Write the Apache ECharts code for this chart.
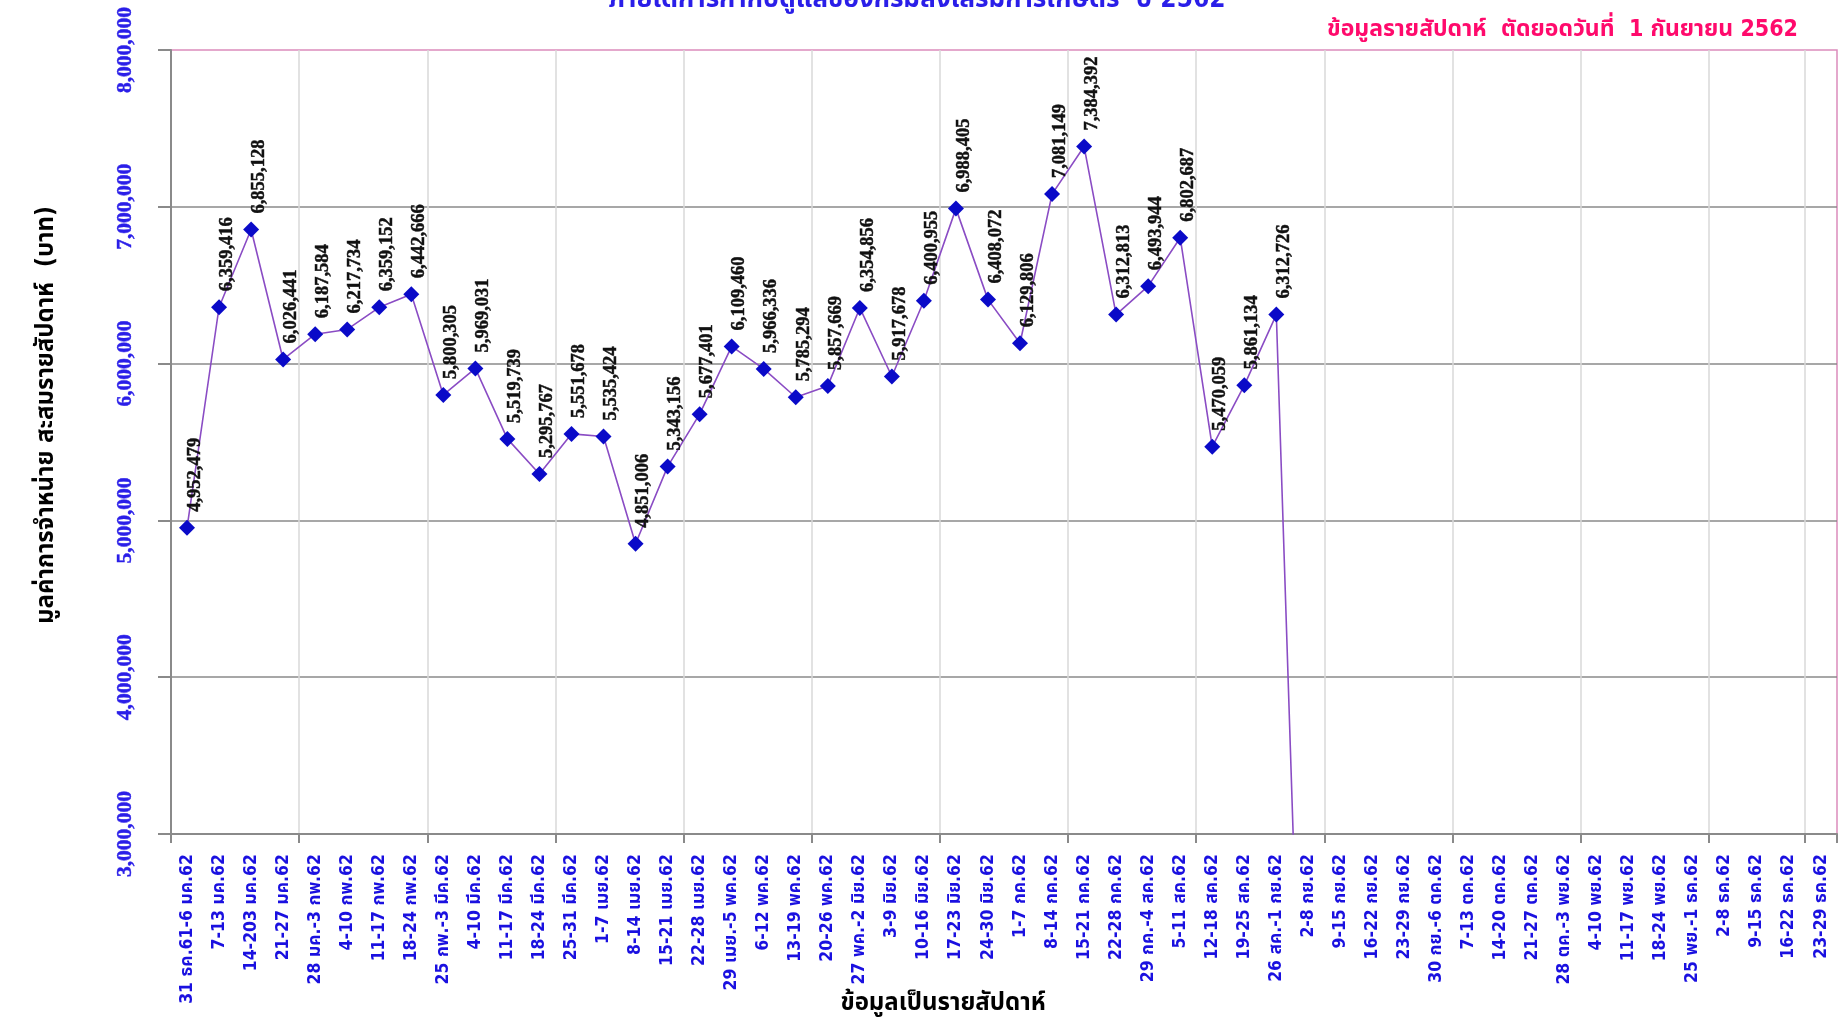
<!DOCTYPE html>
<html>
<head>
<meta charset="utf-8">
<script src="https://cdn.jsdelivr.net/npm/echarts@6/dist/echarts.min.js"></script>
<style>
html,body{margin:0;padding:0;background:#fff;}
#chart{width:1843px;height:1020px;}
</style>
</head>
<body>
<div id="chart"></div>
<script>
const weeks = [
  '31 ธค.61-6 มค.62','7-13 มค.62','14-203 มค.62','21-27 มค.62','28 มค.-3 กพ.62','4-10 กพ.62','11-17 กพ.62','18-24 กพ.62',
  '25 กพ.-3 มีค.62','4-10 มีค.62','11-17 มีค.62','18-24 มีค.62','25-31 มีค.62','1-7 เมย.62','8-14 เมย.62','15-21 เมย.62',
  '22-28 เมย.62','29 เมย.-5 พค.62','6-12 พค.62','13-19 พค.62','20-26 พค.62','27 พค.-2 มิย.62','3-9 มิย.62','10-16 มิย.62',
  '17-23 มิย.62','24-30 มิย.62','1-7 กค.62','8-14 กค.62','15-21 กค.62','22-28 กค.62','29 กค.-4 สค.62','5-11 สค.62',
  '12-18 สค.62','19-25 สค.62','26 สค.-1 กย.62','2-8 กย.62','9-15 กย.62','16-22 กย.62','23-29 กย.62','30 กย.-6 ตค.62',
  '7-13 ตค.62','14-20 ตค.62','21-27 ตค.62','28 ตค.-3 พย.62','4-10 พย.62','11-17 พย.62','18-24 พย.62','25 พย.-1 ธค.62',
  '2-8 ธค.62','9-15 ธค.62','16-22 ธค.62','23-29 ธค.62'
];
const salesValues = [
  4952479, 6359416, 6855128, 6026441, 6187584, 6217734, 6359152, 6442666,
  5800305, 5969031, 5519739, 5295767, 5551678, 5535424, 4851006, 5343156,
  5677401, 6109460, 5966336, 5785294, 5857669, 6354856, 5917678, 6400955,
  6988405, 6408072, 6129806, 7081149, 7384392, 6312813, 6493944, 6802687,
  5470059, 5861134, 6312726, 0
];
const yTicks = { min: 3000000, max: 8000000, interval: 1000000 };

const titleText = 'ภายใต้การกำกับดูแลของกรมส่งเสริมการเกษตร  ปี 2562';
const subtitleText = 'ข้อมูลรายสัปดาห์  ตัดยอดวันที่  1 กันยายน 2562';
const yName = 'มูลค่าการจำหน่าย สะสมรายสัปดาห์  (บาท)';
const xName = 'ข้อมูลเป็นรายสัปดาห์';

const FONT = "'DejaVu Sans Condensed', 'Noto Sans Thai', 'Noto Sans', sans-serif";
const NUMFONT = "'Liberation Serif', 'DejaVu Serif', serif";
const fmt = v => Number(v).toLocaleString('en-US');

const chart = echarts.init(document.getElementById('chart'));
chart.setOption({
  backgroundColor: '#ffffff',
  animation: false,
  title: [
    { text: titleText, left: 912, textAlign: 'center', top: -18,
      textStyle: { color: '#2a1ee8', fontSize: 26, fontWeight: 'bold', fontFamily: FONT } },
    { text: subtitleText, right: 40, top: 14,
      textStyle: { color: '#ff0a6c', fontSize: 23, fontWeight: 'bold', fontFamily: FONT } }
  ],
  grid: { left: 171, right: 6, top: 50, bottom: 186, outerBoundsMode: 'none', containLabel: false,
          show: true, borderColor: '#dc8cbc', borderWidth: 1.5, backgroundColor: 'transparent' },
  xAxis: {
    type: 'category',
    data: weeks,
    boundaryGap: true,
    name: xName,
    nameLocation: 'middle',
    nameGap: 158,
    nameMoveOverlap: false,
    nameTextStyle: { color: '#000', fontSize: 24, fontWeight: 'bold', fontFamily: FONT, padding: [0, 122, 0, 0] },
    axisLine: { lineStyle: { color: '#8a8a8a', width: 2 } },
    axisTick: { show: true, interval: 3, length: 9, lineStyle: { color: '#8a8a8a', width: 2 } },
    axisLabel: { interval: 0, rotate: 90, margin: 20, color: '#1a10e0', fontSize: 17.5, fontWeight: 'bold', fontFamily: FONT },
    splitLine: { show: true, interval: 3, showMaxLine: false, lineStyle: { color: '#d8d8d8', width: 1.5 } }
  },
  yAxis: {
    type: 'value',
    min: yTicks.min, max: yTicks.max, interval: yTicks.interval,
    name: yName,
    nameLocation: 'middle',
    nameRotate: 90,
    nameGap: 112,
    nameMoveOverlap: false,
    nameTextStyle: { color: '#000', fontSize: 24, fontWeight: 'bold', fontFamily: FONT, padding: [0, 0, 0, 54] },
    axisLine: { show: true, lineStyle: { color: '#8a8a8a', width: 2 } },
    axisTick: { show: true, length: 13, lineStyle: { color: '#8a8a8a', width: 2 } },
    axisLabel: { rotate: 90, margin: 35, color: '#2a1ee8', fontSize: 21.5, fontWeight: 'bold', fontFamily: NUMFONT,
                 textBorderColor: '#2a1ee8', textBorderWidth: 0.4, formatter: fmt },
    splitLine: { show: true, showMaxLine: false, lineStyle: { color: '#8a8a8a', width: 1.5 } }
  },
  series: [{
    type: 'line',
    clip: true,
    data: salesValues.map(v => v === 0 ? { value: v, symbol: 'none', label: { show: false } } : v),
    symbol: 'diamond',
    symbolSize: 16,
    itemStyle: { color: '#0a0ac8' },
    lineStyle: { color: '#8a4cc4', width: 1.6 },
    label: {
      show: true, position: 'top', distance: 8, rotate: 90, align: 'left', verticalAlign: 'middle',
      offset: [0, 8],
      color: '#111', fontSize: 18.5, fontWeight: 'bold', fontFamily: NUMFONT,
      textBorderColor: '#111', textBorderWidth: 0.45, formatter: p => fmt(p.value)
    },
    z: 5
  }]
});
</script>
</body>
</html>
